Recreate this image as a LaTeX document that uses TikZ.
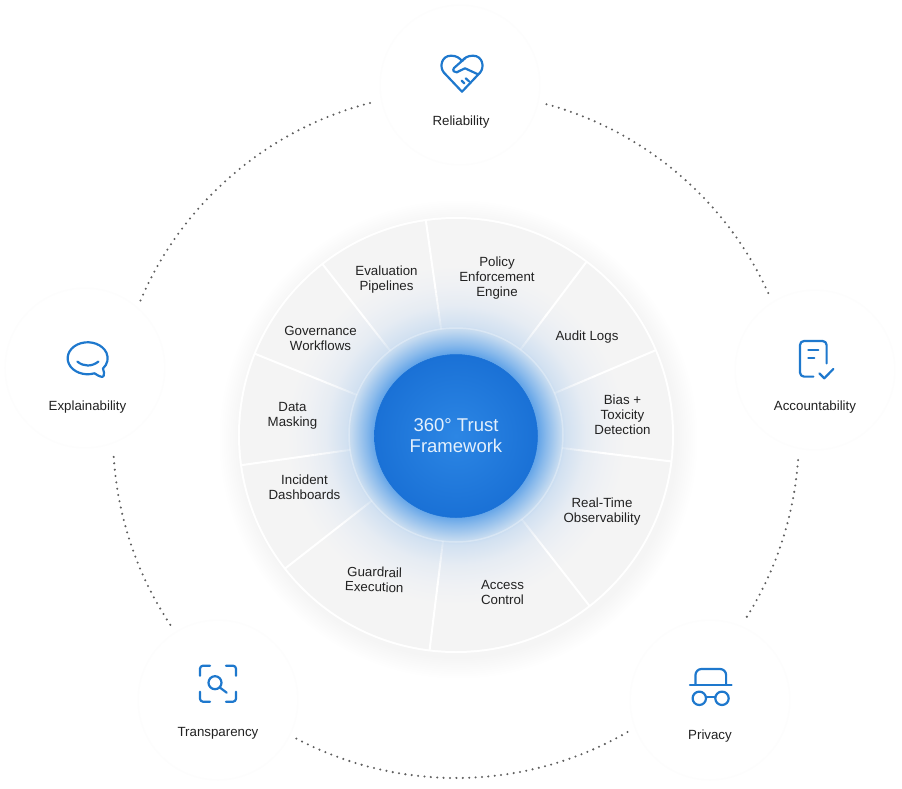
\documentclass[tikz,border=0pt]{standalone}
\usepackage{fontspec}
\setmainfont{Liberation Sans}
\usepackage{xcolor}
\definecolor{trustblue}{RGB}{30, 120, 205}
\definecolor{hubblue}{RGB}{26, 113, 214}
\definecolor{hublight}{RGB}{44, 134, 228}
\definecolor{hubtext}{RGB}{228, 240, 252}
\definecolor{dotgray}{RGB}{95, 95, 95}
\definecolor{labelink}{RGB}{34, 34, 34}
\usetikzlibrary{calc}

% Sector gray with the hub glow in it, and the wheel shadow
\pgfdeclareradialshading{wheelglow}{\pgfpoint{0bp}{0bp}}{
    rgb(0bp)=(.392,.647,.910); rgb(9.49bp)=(.392,.647,.910);
    rgb(10.42bp)=(.533,.725,.922); rgb(12.15bp)=(.769,.855,.941);
    rgb(12.73bp)=(.824,.882,.945); rgb(15.05bp)=(.902,.925,.953);
    rgb(17.36bp)=(.937,.945,.957); rgb(19.68bp)=(.957,.957,.957); rgb(50bp)=(.957,.957,.957)}
\pgfdeclareradialshading{rimshadow}{\pgfpoint{0bp}{0bp}}{
    rgb(0bp)=(.96,.96,.96); rgb(22.7bp)=(.96,.96,.96);
    rgb(25bp)=(1,1,1); rgb(50bp)=(1,1,1)}

\begin{document}
\begin{tikzpicture}[x=1pt, y=1pt,
        petal/.style={circle, fill=white, draw=black!0.6, line width=1.5pt, minimum size=160pt, inner sep=0pt},
        sector/.style={align=center, inner sep=0pt, text=labelink, font=\fontsize{13.3}{15}\selectfont},
        hub/.style={circle, draw=hubblue, line width=0.5pt, inner color=hublight, outer color=hubblue, minimum size=163pt, inner sep=0pt, align=center, text=hubtext, font=\fontsize{18.5}{21}\selectfont},
        dots/.style={draw=dotgray, line width=2.3pt, line cap=round, dash pattern=on 0pt off 6.4pt},
        iconline/.style={draw=trustblue, line width=2.2pt, line cap=round, line join=round}]
        \useasboundingbox (-456,-353) rectangle (446,435);

        % Soft shadow under the wheel
        \shade[shading=rimshadow] (2,-4) circle[radius=240];

        % Wheel and spokes
        \fill[white] (0,0) circle[radius=218];
        \shade[shading=wheelglow] (0,0) circle[radius=216];
        \foreach \a in {98,128,158,188,218,263,308,353,23,53} {
            \draw[white, line width=2pt] (\a:150) -- (\a:217);
            % spokes die out in the glow
            \foreach \r in {107,111,...,147} {
                \pgfmathsetmacro{\fade}{0.2+0.8*(\r-107)/40}
                \draw[white, line width=2pt, opacity=\fade] (\a:\r) -- (\a:\r+4);
            }
        }
        \draw[white, opacity=0.3, line width=1.5pt] (0,0) circle[radius=107];

        % Outer ring
        \coordinate (relEnd) at (74.7:343);
        \coordinate (accEnd) at (-4.2:343);
        \coordinate (priEnd) at (-60:343);
        \coordinate (traEnd) at (213.6:343);
        \coordinate (expEnd) at (156.9:343);
        \draw[dots] (relEnd) arc[start angle=74.7, end angle=24, radius=343];
        \draw[dots] (accEnd) arc[start angle=-4.2, end angle=-32.3, radius=343];
        \draw[dots] (priEnd) arc[start angle=-60, end angle=-117.8, radius=343];
        \draw[dots] (traEnd) arc[start angle=213.6, end angle=183.3, radius=343];
        \draw[dots] (expEnd) arc[start angle=156.9, end angle=104.4, radius=343];

        % Petals
        \node [petal] (relPetal) at (4,350) {};
        \node [petal] (accPetal) at (359,65) {};
        \node [petal] (priPetal) at (254,-265) {};
        \node [petal] (traPetal) at (-238,-265) {};
        \node [petal] (expPetal) at (-371,67) {};

        % Hub and sector labels
        \node [hub] (hubNode) at (0,-1) {360° Trust\\Framework};
        \node [sector] (evaluation) at (-69.5,155) {Evaluation\\Pipelines};
        \node [sector] (policy) at (41,156.5) {Policy\\Enforcement\\Engine};
        \node [sector] (audit) at (131,97.5) {Audit Logs};
        \node [sector] (bias) at (166.5,20.5) {Bias +\\Toxicity\\Detection};
        \node [sector] (realtime) at (146,-76.5) {Real-Time\\Observability};
        \node [sector] (access) at (46.5,-157.5) {Access\\Control};
        \node [sector, rotate=-1.5] (guardrail) at (-81.5,-144.5) {Guardrail\\Execution};
        \node [sector] (incident) at (-151.5,-52.5) {Incident\\Dashboards};
        \node [sector] (masking) at (-163.5,19.5) {Data\\Masking};
        \node [sector] (governance) at (-135.5,96.5) {Governance\\Workflows};

        % Petal labels
        \node [sector] (reliability) at (5,313) {Reliability};
        \node [sector] (accountability) at (359,28) {Accountability};
        \node [sector] (privacy) at (254,-301) {Privacy};
        \node [sector] (transparency) at (-238,-298) {Transparency};
        \node [sector] (explainability) at (-368.5,28) {Explainability};

        % Heart icon
        \begin{scope}[shift={(5.5,363)}]
            \draw[iconline] (0.5,-19.7) -- (-17.5,-0.7) .. controls (-22.5,5) and (-20,16.3) .. (-10.5,16.3) .. controls (-5,16.3) and (-2,14) .. (0.5,11) .. controls (3,14) and (6,16.3) .. (11.5,16.3) .. controls (21,16.3) and (23.5,5) .. (18.5,-0.7) -- cycle;
            \draw[iconline] (3.5,13.7) -- (-7.5,4) .. controls (-9.5,1.5) and (-7,-1) .. (-4.8,-0.3) -- (3.5,3.7) -- (15.8,-2);
            \draw[iconline] (0.2,-8.7) -- (2.8,-11.3);
            \draw[iconline] (4.2,-6.3) -- (7.5,-9.3);
        \end{scope}

        % Speech bubble icon
        \begin{scope}[shift={(-368.3,76.7)}]
            \draw[iconline] (6.8,-15) arc[start angle=-70, end angle=-400, x radius=20, y radius=16] .. controls (16,-13) and (17,-16) .. (16,-17.5) .. controls (15,-19.5) and (12,-18.5) .. (6.8,-15);
            \draw[iconline] (-10.3,-3.3) .. controls (-4,-8.5) and (4,-8.5) .. (10.7,-3.3);
        \end{scope}

        % Document icon
        \begin{scope}[shift={(357.3,76.2)}]
            \draw[iconline, rounded corners=4pt] (13.3,-4.5) -- (13.3,17.8) -- (-13.3,17.8) -- (-13.3,-17.8) -- (0,-17.8);
            \draw[iconline] (-5,8.8) -- (5,8.8);
            \draw[iconline] (-5,0.5) -- (1,0.5);
            \draw[iconline] (6,-14.5) -- (11,-19.5) -- (20,-10.2);
        \end{scope}

        % Search frame icon
        \begin{scope}[shift={(-238,-248.7)}]
            \draw[iconline, rounded corners=3pt] (-18,8) -- (-18,18) -- (-8,18);
            \draw[iconline, rounded corners=3pt] (8,18) -- (18,18) -- (18,8);
            \draw[iconline, rounded corners=3pt] (18,-8) -- (18,-18) -- (8,-18);
            \draw[iconline, rounded corners=3pt] (-8,-18) -- (-18,-18) -- (-18,-8);
            \draw[iconline] (-3,1) circle[radius=6.5];
            \draw[iconline] (1.7,-3.7) -- (8.7,-9);
        \end{scope}

        % Hat and glasses icon
        \begin{scope}[shift={(254.8,-249.7)}]
            \draw[iconline] (-20.8,0) -- (20.8,0);
            \draw[iconline, rounded corners=6pt] (-15.3,0) -- (-15.3,15.7) -- (15.3,15.7) -- (15.3,0);
            \draw[iconline] (-11.5,-13.6) circle[radius=6.7];
            \draw[iconline] (11.2,-13.6) circle[radius=6.7];
            \draw[iconline] (-4.8,-12.5) -- (4.5,-12.5);
        \end{scope}
    \end{tikzpicture}
\end{document}
